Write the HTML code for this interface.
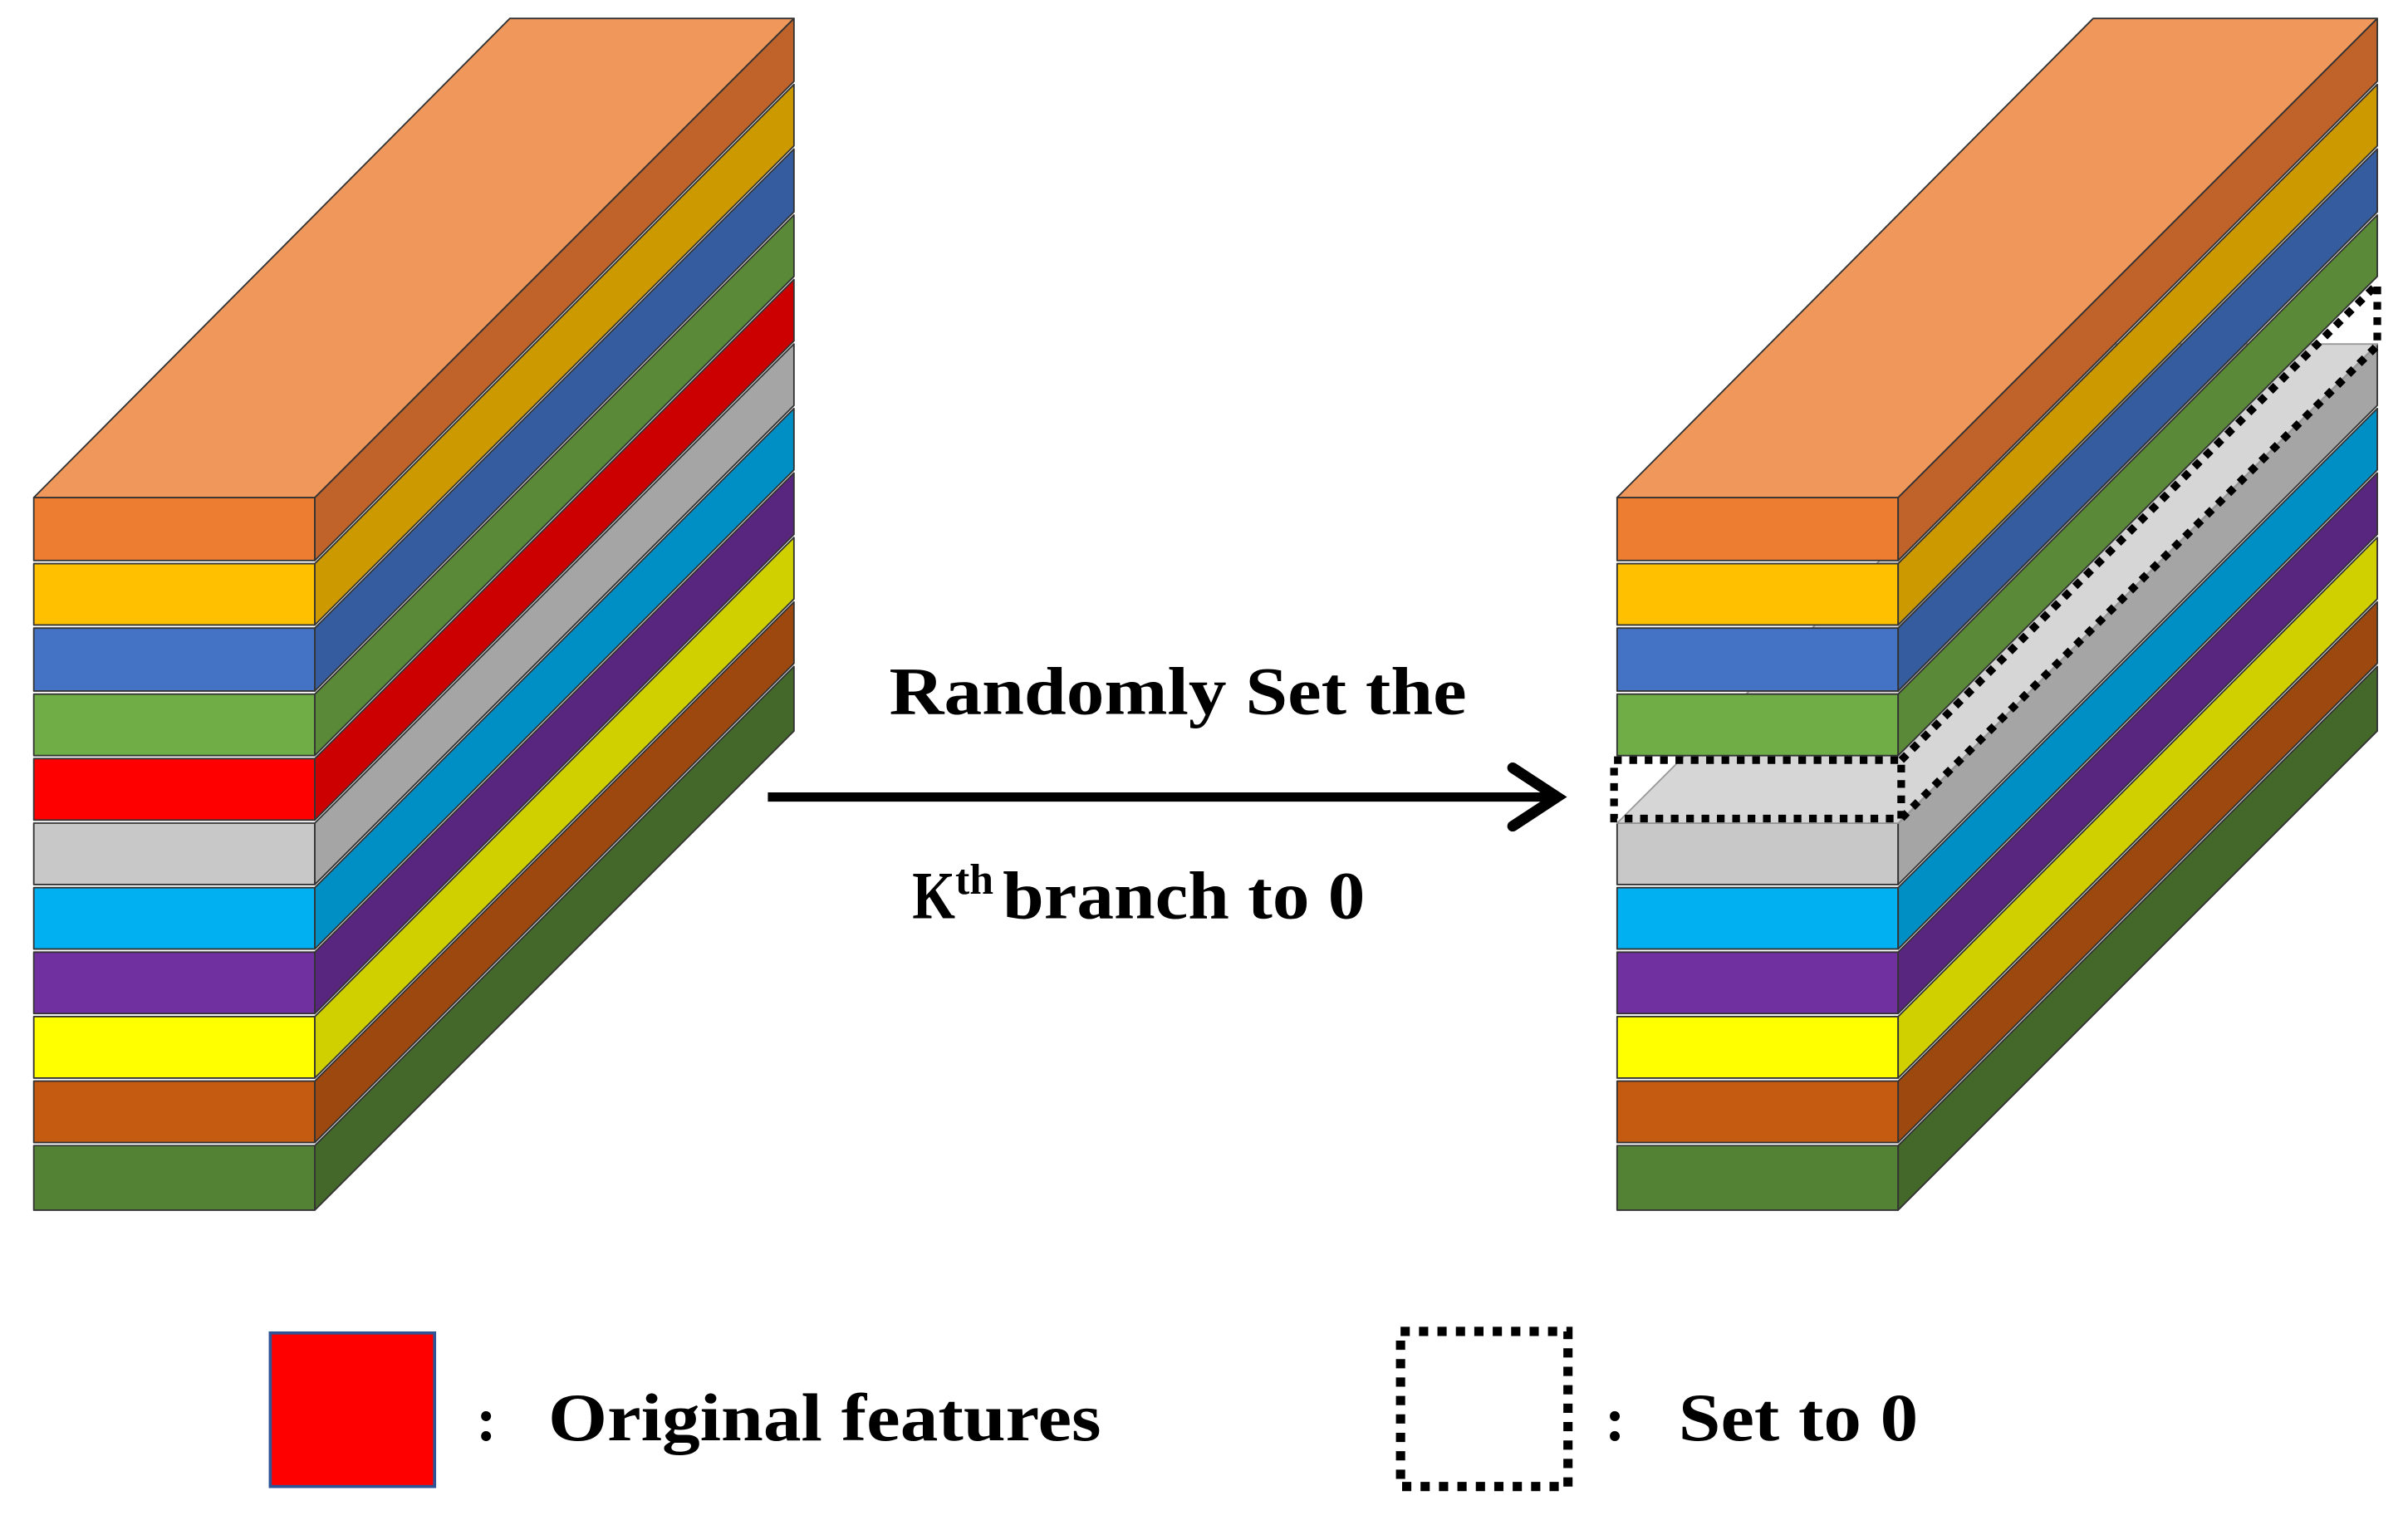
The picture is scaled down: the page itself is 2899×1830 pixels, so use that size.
<!DOCTYPE html>
<html><head><meta charset="utf-8"><style>html,body{margin:0;padding:0;background:#fff}svg{display:block}</style></head>
<body>
<svg xmlns="http://www.w3.org/2000/svg" width="2899" height="1830" viewBox="0 0 1568 989.8">
<rect width="1568" height="990" fill="#fff"/>
<g stroke="#333" stroke-width="1" stroke-linejoin="round">
<!-- LEFT BLOCK -->
<g id="L">
<!-- layers from bottom to top: x 22-205, dx 312, dy -312 -->
<path d="M22,746H205V788H22Z" fill="#548235"/><path d="M205,746L517,434V476L205,788Z" fill="#43682A"/>
<path d="M22,704H205V744H22Z" fill="#C55A11"/><path d="M205,704L517,392V432L205,744Z" fill="#9C480E"/>
<path d="M22,662H205V702H22Z" fill="#FFFF00"/><path d="M205,662L517,350V390L205,702Z" fill="#D0D000"/>
<path d="M22,620H205V660H22Z" fill="#7030A0"/><path d="M205,620L517,308V348L205,660Z" fill="#58267F"/>
<path d="M22,578H205V618H22Z" fill="#00B0F0"/><path d="M205,578L517,266V306L205,618Z" fill="#008FC4"/>
<path d="M22,536H205V576H22Z" fill="#C8C8C8"/><path d="M205,536L517,224V264L205,576Z" fill="#A5A5A5"/>
<path d="M22,494H205V534H22Z" fill="#FF0000"/><path d="M205,494L517,182V222L205,534Z" fill="#CC0000"/>
<path d="M22,452H205V492H22Z" fill="#70AD47"/><path d="M205,452L517,140V180L205,492Z" fill="#5A8A38"/>
<path d="M22,409H205V450H22Z" fill="#4472C4"/><path d="M205,409L517,97V138L205,450Z" fill="#345C9E"/>
<path d="M22,367H205V407H22Z" fill="#FFC000"/><path d="M205,367L517,55V95L205,407Z" fill="#CC9900"/>
<path d="M22,324H205V365H22Z" fill="#ED7D31"/><path d="M205,324L517,12V53L205,365Z" fill="#C0632A"/>
<path d="M22,324L332,12H517L205,324Z" fill="#F0975B"/>
</g>
<!-- RIGHT BLOCK -->
<g transform="translate(1031,0)">
<path d="M22,746H205V788H22Z" fill="#548235"/><path d="M205,746L517,434V476L205,788Z" fill="#43682A"/>
<path d="M22,704H205V744H22Z" fill="#C55A11"/><path d="M205,704L517,392V432L205,744Z" fill="#9C480E"/>
<path d="M22,662H205V702H22Z" fill="#FFFF00"/><path d="M205,662L517,350V390L205,702Z" fill="#D0D000"/>
<path d="M22,620H205V660H22Z" fill="#7030A0"/><path d="M205,620L517,308V348L205,660Z" fill="#58267F"/>
<path d="M22,578H205V618H22Z" fill="#00B0F0"/><path d="M205,578L517,266V306L205,618Z" fill="#008FC4"/>
<path d="M22,536H205V576H22Z" fill="#C8C8C8"/><path d="M205,536L517,224V264L205,576Z" fill="#A5A5A5"/>
<path d="M22,536L334,224H517L205,536Z" fill="#D6D6D6" stroke="#999"/>
<path d="M22,452H205V492H22Z" fill="#70AD47"/><path d="M205,452L517,140V180L205,492Z" fill="#5A8A38"/>
<path d="M22,409H205V450H22Z" fill="#4472C4"/><path d="M205,409L517,97V138L205,450Z" fill="#345C9E"/>
<path d="M22,367H205V407H22Z" fill="#FFC000"/><path d="M205,367L517,55V95L205,407Z" fill="#CC9900"/>
<path d="M22,324H205V365H22Z" fill="#ED7D31"/><path d="M205,324L517,12V53L205,365Z" fill="#C0632A"/>
<path d="M22,324L332,12H517L205,324Z" fill="#F0975B"/>
</g>
</g>
<!-- dashed removed layer -->
<g fill="none" stroke="#000" stroke-width="5" stroke-dasharray="5,5">
<path d="M1051,495H1238V533H1051Z"/>
<path d="M1238,495L1548,185V225L1238,533"/>
</g>
<!-- arrow -->
<line x1="500" y1="519" x2="1012" y2="519" stroke="#000" stroke-width="6"/>
<path d="M985,500L1014,519L985,538" fill="none" stroke="#000" stroke-width="7" stroke-linecap="round" stroke-linejoin="miter"/>
<!-- labels -->
<g font-family="'Liberation Serif',serif" font-weight="bold" fill="#000">
<text x="579" y="465" font-size="44" textLength="376" lengthAdjust="spacingAndGlyphs">Randomly Set the</text>
<text x="594" y="598" font-size="44"><tspan textLength="28" lengthAdjust="spacingAndGlyphs">K</tspan><tspan font-size="28" dy="-16">th</tspan><tspan dy="16" dx="6" textLength="236" lengthAdjust="spacingAndGlyphs">branch to 0</tspan></text>
<text x="310" y="938" font-size="40">:</text>
<text x="357" y="938" font-size="44" textLength="360" lengthAdjust="spacingAndGlyphs">Original features</text>
<text x="1045" y="938" font-size="40">:</text>
<text x="1093" y="938" font-size="44" textLength="156" lengthAdjust="spacingAndGlyphs">Set to 0</text>
</g>
<rect x="176" y="868" width="107" height="100" fill="#FF0000" stroke="#2F5597" stroke-width="2"/>
<rect x="912" y="867" width="109" height="101" fill="none" stroke="#000" stroke-width="6" stroke-dasharray="6,6"/>
</svg>
</body></html>
